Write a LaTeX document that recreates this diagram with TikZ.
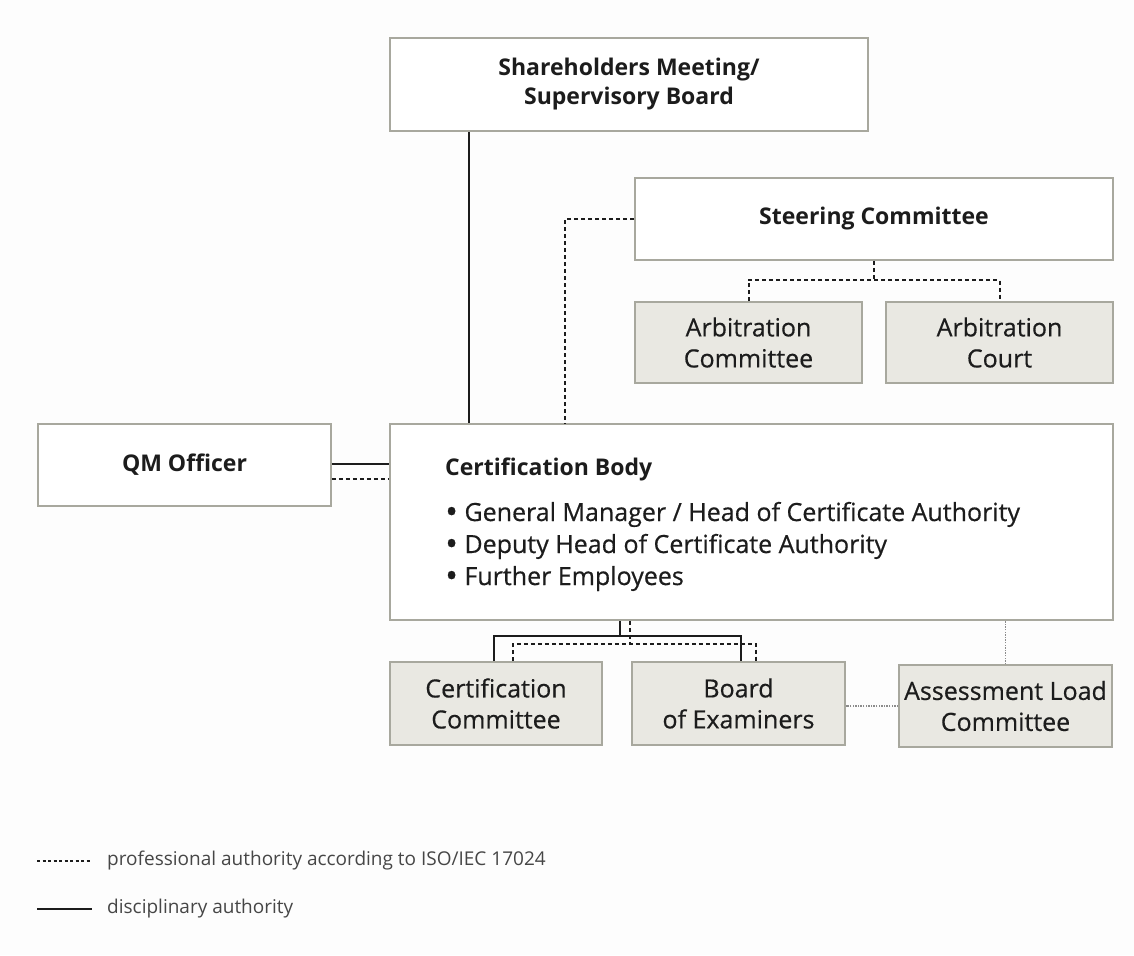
\documentclass[tikz,border=0pt]{standalone}
\usepackage{fontspec}
\setmainfont{Open Sans}
\newfontface\bodyface{Open Sans}[FakeBold=0.5]
\usetikzlibrary{calc}

\definecolor{boxline}{RGB}{168,168,158}
\definecolor{boxfill}{RGB}{233,232,226}
\definecolor{ink}{RGB}{28,28,28}
\definecolor{legendink}{RGB}{70,70,70}
\definecolor{faint}{RGB}{140,140,140}
\definecolor{paper}{RGB}{253,253,253}

\newcommand{\orgbullet}{{\fontsize{34}{31}\selectfont\raisebox{-2.5pt}{•}}}

\tikzset{
  orgbox/.style={draw=boxline, line width=1.8pt, fill=white, inner sep=0pt,
    align=center, text=ink, font=\fontsize{25}{31}\selectfont\bodyface},
  headbox/.style={orgbox, font=\fontsize{23}{29}\selectfont\bfseries},
  unitbox/.style={orgbox, fill=boxfill},
  bodytext/.style={inner sep=0pt, text=ink, anchor=base west},
  legendtext/.style={inner sep=0pt, text=legendink, anchor=west,
    font=\fontsize{19}{22}\selectfont},
  disc/.style={draw=ink, line width=2pt},
  prof/.style={draw=ink, line width=2pt, dash pattern=on 4pt off 3pt},
  aux/.style={draw=faint, line width=1.4pt, dash pattern=on 1.4pt off 1.2pt},
}

\begin{document}
\begin{tikzpicture}[x=1pt, y=-1pt]
  \fill[paper] (0,0) rectangle (1134,955);
  \useasboundingbox (0,0) rectangle (1134,955);

  % boxes
  \node[headbox, minimum width=478pt, minimum height=93pt] (sh) at (629,84.5)
    {Shareholders Meeting/\\Supervisory Board};
  \node[headbox, minimum width=478pt, minimum height=82pt] (steer) at (874,219)
    {Steering Committee};
  \node[unitbox, minimum width=227pt, minimum height=81pt] (arbc) at (748.5,342.5)
    {Arbitration\\Committee};
  \node[unitbox, minimum width=227pt, minimum height=81pt] (arbct) at (999.5,342.5)
    {Arbitration\\Court};
  \node[headbox, minimum width=293pt, minimum height=82pt] (qm) at (184.5,465)
    {QM Officer};
  \node[orgbox, minimum width=723pt, minimum height=196pt] (cb) at (751.5,522) {};
  \node[unitbox, minimum width=212pt, minimum height=83pt] (cc) at (496,703.5)
    {Certification\\Committee};
  \node[unitbox, minimum width=213pt, minimum height=83pt] (boe) at (738.5,703.5)
    {Board\\of Examiners};
  \node[unitbox, minimum width=213pt, minimum height=82pt] (alc) at (1005.5,706)
    {Assessment Load\\Committee};

  % contents of the certification body
  \node[bodytext, font=\fontsize{23}{29}\selectfont\bfseries] (cbtitle) at (445,475)
    {Certification Body};
  \node[bodytext, font=\fontsize{25}{31}\selectfont\bodyface] (cbi1) at (445,521)
    {\orgbullet\ General Manager / Head of Certificate Authority};
  \node[bodytext, font=\fontsize{25}{31}\selectfont\bodyface] (cbi2) at (445,553)
    {\orgbullet\ Deputy Head of Certificate Authority};
  \node[bodytext, font=\fontsize{25}{31}\selectfont\bodyface] (cbi3) at (445,585)
    {\orgbullet\ Further Employees};

  % disciplinary line from the shareholders
  \draw[disc] ($(sh.south west)+(80,0)$) -- ($(cb.north west)+(80,0)$);

  % steering committee links
  \draw[prof] (steer.west) -| ($(cb.north west)+(176,0)$);
  \coordinate (sj) at ($(steer.south)+(0,19)$);
  \draw[prof] (steer.south) -- (sj);
  \draw[prof] (arbc.north) |- (sj) -| (arbct.north);

  % QM officer links
  \coordinate (qs) at ($(qm.east)+(0,-1)$);
  \coordinate (qd) at ($(qm.east)+(0,14)$);
  \draw[disc] (qs) -- (qs -| cb.west);
  \draw[prof] (qd) -- (qd -| cb.west);

  % committees below the certification body
  \coordinate (dj) at ($(cb.south west)+(231,15)$);
  \coordinate (pj) at ($(cb.south west)+(241,23)$);
  \draw[disc] (dj |- cb.south) -- (dj);
  \draw[disc] ($(cc.north)+(-2,0)$) |- (dj) -| ($(boe.north)+(2.5,0)$);
  \draw[prof] (pj |- cb.south) -- (pj);
  \draw[prof] ($(cc.north)+(17,0)$) |- (pj) -| ($(boe.north)+(17.5,0)$);

  % assessment load committee
  \draw[aux] (alc.north) -- (alc.north |- cb.south);
  \draw[aux] (alc.west) -- (alc.west -| boe.east);

  % legend
  \coordinate (lpa) at (37,861);
  \coordinate (lpb) at (90,861);
  \coordinate (lda) at (37,909);
  \coordinate (ldb) at (92,909);
  \draw[prof, line width=1.8pt, dash pattern=on 3pt off 2.5pt] (lpa) -- (lpb);
  \draw[disc, line width=1.8pt] (lda) -- (ldb);
  \node[legendtext] (lprof) at (107,861)
    {professional authority according to ISO/IEC 17024};
  \node[legendtext] (ldisc) at (107,909) {disciplinary authority};
\end{tikzpicture}
\end{document}
